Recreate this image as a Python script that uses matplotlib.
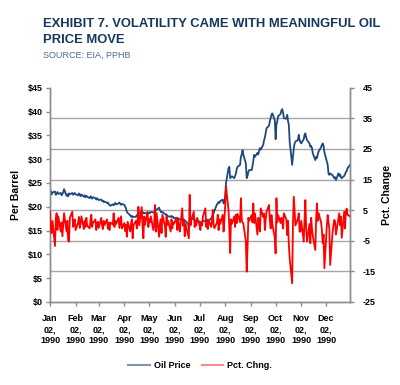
import matplotlib
matplotlib.use("Agg")
import matplotlib.pyplot as plt
import matplotlib.transforms as mtransforms
from matplotlib.lines import Line2D
import pandas as pd

plt.rcParams['font.family'] = ['Liberation Sans', 'DejaVu Sans']

# ---- data (business days of 1990, one line per month) ----
dates = pd.bdate_range("1990-01-02", "1990-12-31")

oil_price = (
    [23.7, 23.3, 22.6, 23.0, 23.2, 22.5, 22.8, 23.1, 22.7, 22.9, 22.4, 22.7, 23.0, 23.7, 22.3, 22.6, 22.2, 22.8, 22.6, 22.9, 22.5, 22.7]  # Jan
    + [22.9, 22.6, 22.4, 22.8, 22.5, 22.2, 22.6, 22.1, 22.4, 22.0, 22.3, 22.1, 21.8, 22.2, 22.0, 21.7, 22.0, 21.8, 21.5, 21.8]  # Feb
    + [21.6, 21.4, 21.5, 21.2, 21.3, 21.0, 21.1, 20.8, 20.9, 20.6, 20.4, 20.2, 20.5, 20.3, 20.6, 20.8, 20.5, 20.7, 20.9, 20.6, 20.4, 20.6]  # Mar
    + [20.4, 20.0, 19.6, 18.9, 18.7, 18.2, 17.9, 18.1, 17.8, 17.9, 17.9, 18.2, 18.4, 18.6, 18.8, 19.0, 18.7, 18.8, 18.6, 18.7, 18.5]  # Apr
    + [18.6, 18.8, 18.7, 18.9, 18.8, 18.9, 19.1, 19.2, 19.4, 19.8, 19.3, 19.0, 18.8, 18.9, 18.5, 18.3, 18.4, 18.1, 18.0, 17.9, 18.1, 17.8, 17.9]  # May
    + [17.6, 17.7, 17.5, 17.6, 17.4, 17.3, 17.4, 17.1, 17.2, 16.9, 17.0, 16.4, 15.5, 16.9, 17.0, 17.3, 17.6, 17.3, 17.1, 17.0, 16.9]  # Jun
    + [16.9, 16.6, 16.5, 16.8, 17.1, 16.9, 17.1, 17.3, 17.0, 17.2, 17.5, 17.9, 18.3, 18.6, 19.2, 20.5, 20.7, 21.0, 20.8, 21.2, 21.5, 20.7]  # Jul
    + [20.9, 22.5, 25.0, 28.1, 28.4, 26.0, 26.2, 26.4, 26.0, 26.5, 27.0, 28.0, 28.4, 28.8, 30.5, 31.0, 31.9, 30.9, 29.1, 26.0, 26.5, 27.3, 27.7]  # Aug
    + [27.7, 28.5, 29.6, 30.9, 30.5, 31.3, 31.0, 31.8, 32.3, 32.0, 33.0, 34.0, 34.5, 35.5, 36.5, 37.0, 38.0, 38.6, 39.3, 39.6]  # Sep
    + [38.2, 34.2, 37.3, 37.9, 39.0, 39.5, 40.2, 40.5, 39.8, 38.6, 38.5, 39.3, 38.0, 37.2, 33.7, 28.8, 30.5, 32.3, 33.3, 33.7, 34.0, 35.1, 34.0]  # Oct
    + [33.6, 33.3, 34.2, 35.1, 35.4, 34.5, 34.0, 33.3, 32.6, 32.8, 32.3, 31.2, 29.8, 30.5, 30.2, 31.0, 31.6, 32.5, 33.0, 33.3, 32.8, 31.5]  # Nov
    + [29.5, 28.8, 27.0, 26.7, 27.0, 26.6, 26.3, 26.0, 26.2, 25.6, 27.0, 26.5, 26.8, 26.2, 26.0, 26.5, 26.8, 27.3, 27.5, 28.1, 28.8]  # Dec
)

pct_chng = (
    [4.5, -1.0, -2.5, 1.5, -6.7, 2.0, 4.0, -1.5, 3.0, -2.0, 1.0, -3.5, 0.5, 4.0, -2.0, 1.5, -5.0, -5.3, 2.5, 4.5, -0.5, 1.0]  # Jan
    + [2.0, -1.5, 1.0, 2.8, -0.8, 0.5, 3.0, -1.2, 1.5, -0.5, 2.5, 0.0, -1.0, 1.8, 3.5, -0.5, 0.8, 2.0, -1.5, 0.5]  # Feb
    + [1.2, -0.8, 2.5, 0.0, -1.2, 1.5, 0.2, 2.0, -1.0, 0.8, -1.5, 1.0, 0.3, 4.0, -0.5, 1.5, 0.5, 2.5, -0.8, 1.2, 3.0, -1.0]  # Mar
    + [0.8, -1.8, 0.2, -3.7, 1.2, -2.0, 0.5, 2.0, -4.2, 0.1, 1.5, -1.0, 1.8, 6.1, 0.0, 6.0, -0.5, -4.2, 2.9, 0.2, 4.5]  # Apr
    + [-0.5, 2.0, 1.0, 3.0, -1.5, 0.5, 6.7, -2.0, 4.0, -3.7, 0.5, 2.0, -2.5, 3.5, 0.0, -3.7, 2.9, 0.2, 1.5, -2.0, 2.0, -1.0, 1.0]  # May
    + [0.5, 2.5, -1.5, 1.8, 0.2, -2.0, 5.6, 0.0, 2.0, -3.5, 0.5, -3.0, -4.2, 10.0, 0.0, 1.8, 4.5, -0.5, 1.0, 0.0, 2.5]  # Jun
    + [0.1, -1.5, 1.2, 0.0, 2.9, 5.6, -0.5, 1.5, -1.2, 1.8, -0.5, 1.5, 5.1, 0.0, -0.9, 1.0, 3.5, -1.5, 2.0, 0.5, 3.5, -2.0]  # Jul
    + [1.5, 6.7, 12.7, 5.0, -1.0, -9.0, 2.0, 0.5, 3.0, -0.5, 3.5, 0.8, 3.8, 1.0, 8.9, 2.0, 1.0, 0.5, -5.3, -15.1, -7.5, 2.5, 1.5]  # Aug
    + [3.4, 1.0, 7.2, 0.8, 3.9, -3.0, 2.5, 0.5, -2.0, 5.6, 2.8, 3.9, -1.5, 2.0, 4.5, 6.7, 1.8, -1.0, 3.4, 0.5]  # Sep
    + [-4.0, -9.1, 8.9, 1.0, 3.4, 0.8, 2.5, 1.2, -1.0, 4.0, 2.0, -3.1, 1.5, -6.4, -10.7, -18.9, 1.0, 9.4, 4.5, 0.0, 2.3, 4.0, -2.0]  # Oct
    + [-2.0, 1.5, -5.3, 2.0, 8.3, -1.0, -5.3, 0.5, -5.8, 2.5, -1.0, -3.5, -8.0, 2.0, 7.2, 1.5, 4.0, 1.0, -1.5, -5.8, -3.0, -14.0]  # Nov
    + [0.1, 3.4, 1.0, -1.0, -12.9, -2.0, 0.1, 1.8, 1.2, -3.0, 2.3, 4.0, 0.1, 2.9, -4.0, 4.5, -1.0, 4.5, 5.5, 3.5, 3.0]  # Dec
)

month_ticks = pd.date_range("1990-01-02", "1990-12-02", freq=pd.DateOffset(months=1))
left_ticks = [0, 5, 10, 15, 20, 25, 30, 35, 40, 45]
right_ticks = [-25, -15, -5, 5, 15, 25, 35, 45]

n = min(len(dates), len(oil_price), len(pct_chng))
dates = dates[:n]

# ---- figure ----
fig = plt.figure(figsize=(4.0, 3.85), dpi=100)
ax = fig.add_axes([0.125, 0.2156, 0.75, 0.5566])
ax2 = ax.twinx()

navy = "#1F497D"
red = "#FF0000"
gridc = "#A6A6A6"
spinec = "#8C8C8C"

ax.plot(dates, oil_price[:n], color=navy, lw=1.3, zorder=3)
ax2.plot(dates, pct_chng[:n], color=red, lw=1.3, zorder=3)

ax.set_ylim(0, 45)
ax2.set_ylim(-25, 45)
ax.set_xlim(pd.Timestamp("1990-01-02"), pd.Timestamp("1990-12-31"))

# gridlines at right-axis ticks, drawn under the lines
trans = mtransforms.blended_transform_factory(ax.transAxes, ax2.transData)
for v in right_ticks[1:-1]:
    ax.add_line(Line2D([0, 1], [v, v], transform=trans, color=gridc, lw=1.0, zorder=1))

ax.set_yticks(left_ticks)
ax.set_yticklabels([f"${v}" for v in left_ticks])
ax2.set_yticks(right_ticks)
ax2.set_yticklabels([str(v) for v in right_ticks])
ax.set_xticks(month_ticks)
ax.set_xticklabels([d.strftime("%b\n%d,\n%Y") for d in month_ticks])

for a in (ax, ax2):
    a.spines['top'].set_visible(False)
    for s in ('left', 'right', 'bottom'):
        a.spines[s].set_color(spinec)
        a.spines[s].set_linewidth(1.0)
    a.tick_params(colors=spinec, length=3, width=1.0, labelcolor="black", labelsize=6.5)

for lab in ax.get_yticklabels() + ax2.get_yticklabels() + ax.get_xticklabels():
    lab.set_fontweight("bold")
ax.tick_params(axis='y', pad=2)
ax2.tick_params(axis='y', pad=6)
ax.tick_params(axis='x', pad=6)
for lab in ax.get_xticklabels():
    lab.set_linespacing(1.25)

ax.set_ylabel("Per Barrel", fontsize=7.5, fontweight="bold", labelpad=5)
ax2.set_ylabel("Pct. Change", fontsize=7.5, fontweight="bold", labelpad=5)

# title
fig.text(43 / 400, 1 - 24 / 385, "EXHIBIT 7. VOLATILITY CAME WITH MEANINGFUL OIL",
         fontsize=9.4, fontweight="bold", color="#17375E", va="center", ha="left")
fig.text(43 / 400, 1 - 40 / 385, "PRICE MOVE",
         fontsize=9.4, fontweight="bold", color="#17375E", va="center", ha="left")
fig.text(43 / 400, 1 - 55 / 385, "SOURCE: EIA, PPHB",
         fontsize=6.5, color="#4F6A8F", va="center", ha="left")

# legend
handles = [Line2D([], [], color="#8594AE", lw=1.5), Line2D([], [], color="#FF8C8C", lw=1.5)]
fig.legend(handles, ["Oil Price", "Pct. Chng."], loc="center", bbox_to_anchor=(0.5, 1 - 366 / 385),
           ncol=2, frameon=False, prop={"weight": "bold", "size": 6.5},
           handlelength=2.4, columnspacing=1.3, handletextpad=0.4)

fig.savefig("out.png", dpi=100)
